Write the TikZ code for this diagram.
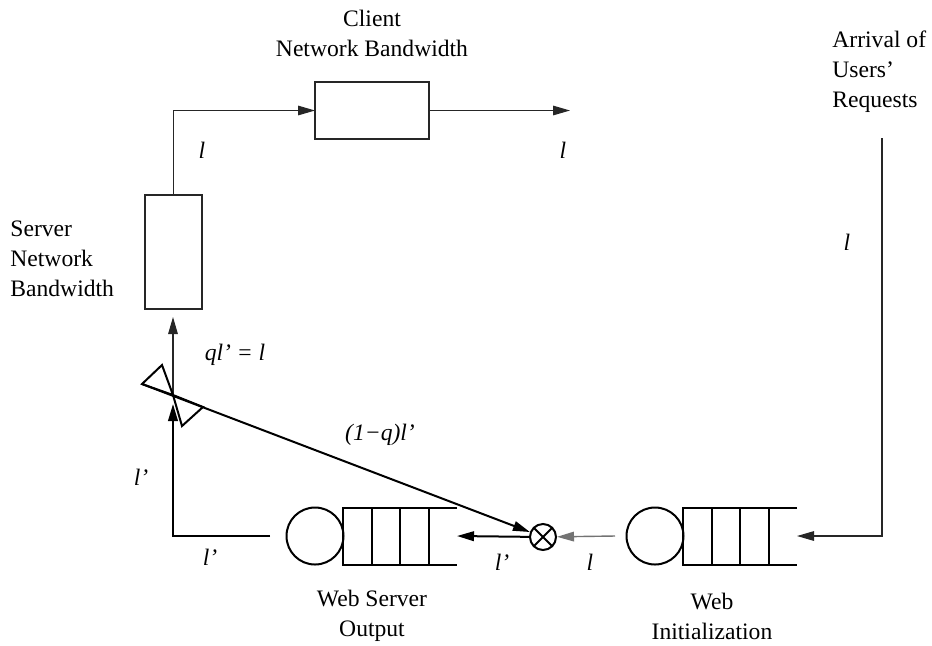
\documentclass[tikz,border=0pt]{standalone}
\usepackage{fontspec}
\setmainfont{Liberation Serif}
\usetikzlibrary{arrows.meta,calc}
\begin{document}
\begin{tikzpicture}[x=0.5pt,y=-0.5pt,
  font=\fontsize{11.8}{15}\selectfont,
  thinline/.style={line width=0.55pt,draw=black!85},
  thickline/.style={line width=1pt,draw=black},
  greyline/.style={line width=0.7pt,draw=black!55},
  flow/.style={-{Triangle[length=8.5pt,width=4.8pt]}},
  lbl/.style={font=\fontsize{11.8}{15}\selectfont\itshape,inner sep=0pt},
  caption/.style={align=center,inner sep=0pt},
  bwbox/.style={rectangle,thinline,inner sep=0pt,outer sep=0pt},
  server/.style={circle,thickline,minimum size=28.5pt,inner sep=0pt,outer sep=0pt},
  buffer/.style={rectangle,draw=none,minimum width=57pt,minimum height=28.5pt,inner sep=0pt,outer sep=0pt},
  mixer/.style={circle,thickline,minimum size=13pt,inner sep=0pt,
    path picture={\draw[line width=0.9pt]
      (path picture bounding box.north west) -- (path picture bounding box.south east)
      (path picture bounding box.north east) -- (path picture bounding box.south west);}}
]
\useasboundingbox (0,0) rectangle (932,645);

% bandwidth boxes
\node[bwbox,draw,minimum width=57pt,minimum height=28.5pt] (client) at (372,110.5) {};
\node[bwbox,draw,minimum width=28.5pt,minimum height=57pt] (srvbw) at (173.5,252) {};

% queues: server circle followed by a buffer open on its right
\node[server,draw] (wsoSrv) at (315,536) {};
\node[buffer] (wsoBuf) at (400,536) {};
\node[server,draw] (wiSrv) at (655,536) {};
\node[buffer] (wiBuf) at (740,536) {};
\foreach \b in {wsoBuf,wiBuf} {
  \draw[thickline] (\b.north east) -- (\b.north west) -- (\b.south west) -- (\b.south east);
  \foreach \f in {0.25,0.5,0.75}
    \draw[thickline] ($(\b.north west)!\f!(\b.north east)$) -- ($(\b.south west)!\f!(\b.south east)$);
}

% mixing point
\node[mixer,draw] (xor) at (543,537) {};

% free ends and switch points
\coordinate (clientOut) at (570,110.5);
\coordinate (reqIn) at (882,138);
\coordinate (wiOut) at (615,536);
\coordinate (wsoOut) at (270,536);
\coordinate (loopTip) at (173,404);
\coordinate (J) at (173,395);
\coordinate (srvIn) at (173,317);
\coordinate (splitA) at (142,384);
\coordinate (splitB) at (162,365);
\coordinate (splitC) at (203,407);
\coordinate (splitD) at (182,426);

% connectors
\draw[thinline,flow] (srvbw.north) |- (client.west);
\draw[thinline,flow] (client.east) -- (clientOut);
\draw[thinline,flow] (reqIn) |- (wiBuf.east);
\draw[greyline,flow] (wiOut) -- (xor);
\draw[thickline,flow] (xor) -- (wsoBuf.east);
\draw[thickline,flow] (wsoOut) -- (173,536) -- (loopTip);
\draw[thinline,flow] (J) -- (srvIn);
\draw[thickline,flow] (splitA) -- (xor);

% splitter valve
\draw[thickline,line join=miter] (splitA) -- (splitB) -- (J) -- cycle;
\draw[thickline,line join=miter] (J) -- (splitC) -- (splitD) -- cycle;

% captions
\node[caption] (capClient) at (372,33) {Client\\Network Bandwidth};
\node[caption,align=left,anchor=west] (capSrv) at (10,259) {Server\\Network\\Bandwidth};
\node[caption,align=left,anchor=west] (capReq) at (832,72) {Arrival of\\Users’\\Requests};
\node[caption] (capWso) at (372,616) {Web Server\\Output};
\node[caption] (capWi) at (712,616) {Web\\Initialization};

% rate labels
\node[lbl] (r1) at (202,150) {l};
\node[lbl] (r2) at (563,150) {l};
\node[lbl] (r3) at (847,242) {l};
\node[lbl] (r4) at (235,355) {ql’ = l};
\node[lbl] (r5) at (380,435) {(1−q)l’};
\node[lbl] (r6) at (141,477) {l’};
\node[lbl] (r7) at (210,557) {l’};
\node[lbl] (r8) at (502,562) {l’};
\node[lbl] (r9) at (590,562) {l};
\end{tikzpicture}
\end{document}
